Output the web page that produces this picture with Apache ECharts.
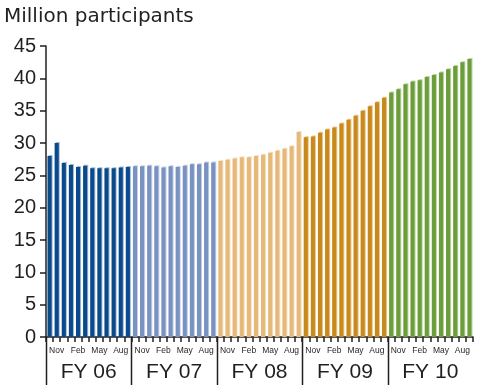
<!DOCTYPE html>
<html>
<head>
<meta charset="utf-8">
<script src="https://cdn.jsdelivr.net/npm/echarts@6/dist/echarts.min.js"></script>
<style>
  html, body { margin: 0; padding: 0; background: #fff; }
  #chart { width: 481px; height: 385px; }
</style>
</head>
<body>
<div id="chart"></div>
<script>
// Monthly participation, millions, October through September of each fiscal year
const fy06 = [28.0, 30.0, 26.9, 26.6, 26.3, 26.5, 26.1, 26.1, 26.1, 26.1, 26.2, 26.3];
const fy07 = [26.4, 26.4, 26.5, 26.4, 26.2, 26.4, 26.3, 26.5, 26.7, 26.7, 27.0, 27.0];
const fy08 = [27.2, 27.4, 27.6, 27.8, 27.8, 28.0, 28.2, 28.5, 28.8, 29.1, 29.5, 31.7];
const fy09 = [30.9, 31.0, 31.6, 32.1, 32.4, 33.0, 33.6, 34.2, 35.0, 35.7, 36.3, 37.0];
const fy10 = [37.8, 38.3, 39.1, 39.5, 39.7, 40.2, 40.5, 40.9, 41.4, 41.9, 42.5, 43.0];

const fiscalYears = ['FY 06', 'FY 07', 'FY 08', 'FY 09', 'FY 10'];
const months = ['Oct', 'Nov', 'Dec', 'Jan', 'Feb', 'Mar', 'Apr', 'May', 'Jun', 'Jul', 'Aug', 'Sep'];
const shownMonths = ['Nov', 'Feb', 'May', 'Aug'];
const yTicks = [0, 5, 10, 15, 20, 25, 30, 35, 40, 45];

// bar colour and its lighter edge, one pair per fiscal year
const fyColors = ['#0b4a8a', '#7a92c1', '#e6b97b', '#c98a1d', '#6c9d3d'];
const fyEdges  = ['#9fbbd9', '#c4d1e8', '#f6e3c4', '#ecc98c', '#bcd89a'];

const yearSeries = [fy06, fy07, fy08, fy09, fy10];
const categories = [];
const values = [];
yearSeries.forEach((arr, k) => {
  arr.forEach((v, m) => {
    categories.push(months[m] + ' ' + fiscalYears[k]);
    values.push({
      value: v,
      itemStyle: {
        color: fyColors[k],
        shadowColor: fyEdges[k],
        shadowOffsetX: 1,
        shadowOffsetY: -1,
        shadowBlur: 0
      }
    });
  });
});

const ink = '#231f20';
const chart = echarts.init(document.getElementById('chart'), null, { renderer: 'canvas' });

chart.setOption({
  animation: false,
  backgroundColor: '#fff',
  title: {
    text: 'Million participants',
    left: -1,
    top: 2,
    textStyle: { fontFamily: 'DejaVu Sans', fontSize: 20, fontWeight: 'normal', color: ink }
  },
  grid: { left: 46, right: 8, top: 46, bottom: 48 },
  xAxis: [
    {
      type: 'category',
      data: categories,
      boundaryGap: true,
      axisLine: { show: true, lineStyle: { color: ink, width: 1.5 } },
      axisTick: { show: true, interval: 0, length: 5, lineStyle: { color: ink, width: 1.5 } },
      axisLabel: {
        interval: 0,
        margin: 9,
        fontFamily: 'Liberation Sans Narrow, Liberation Sans',
        fontSize: 8.5,
        color: ink,
        formatter: (val) => {
          const m = val.split(' ')[0];
          return shownMonths.indexOf(m) >= 0 ? m : '';
        }
      },
      splitLine: { show: false }
    },
    {
      type: 'category',
      data: fiscalYears,
      position: 'bottom',
      boundaryGap: true,
      axisLine: { show: false },
      axisTick: { show: false },
      axisLabel: {
        interval: 0,
        margin: 25,
        fontFamily: 'Liberation Sans',
        fontSize: 21,
        color: ink
      },
      splitLine: { show: false }
    }
  ],
  yAxis: {
    type: 'value',
    min: yTicks[0],
    max: yTicks[yTicks.length - 1],
    interval: 5,
    axisLine: { show: true, lineStyle: { color: ink, width: 1.5 } },
    axisTick: { show: true, length: 6, lineStyle: { color: ink, width: 1.5 } },
    axisLabel: { margin: 10, fontFamily: 'Liberation Sans', fontSize: 20, color: ink },
    splitLine: { show: false }
  },
  series: [{
    type: 'bar',
    xAxisIndex: 0,
    data: values,
    barWidth: '58%'
  }]
});

// Fiscal-year dividers below the axis, placed from the category scale
function drawDividers() {
  const c0 = chart.convertToPixel({ xAxisIndex: 0 }, 0);
  const c1 = chart.convertToPixel({ xAxisIndex: 0 }, 1);
  const half = (c1 - c0) / 2;
  const yBase = chart.convertToPixel({ yAxisIndex: 0 }, 0);
  const h = chart.getHeight();
  const lines = fiscalYears.map((fy, k) => {
    const x = Math.round(chart.convertToPixel({ xAxisIndex: 0 }, k * months.length) - half) + 0.5;
    return {
      type: 'line',
      shape: { x1: x, y1: yBase, x2: x, y2: h },
      style: { stroke: ink, lineWidth: 1.5 },
      silent: true
    };
  });
  chart.setOption({ graphic: lines });
}
drawDividers();
</script>
</body>
</html>
